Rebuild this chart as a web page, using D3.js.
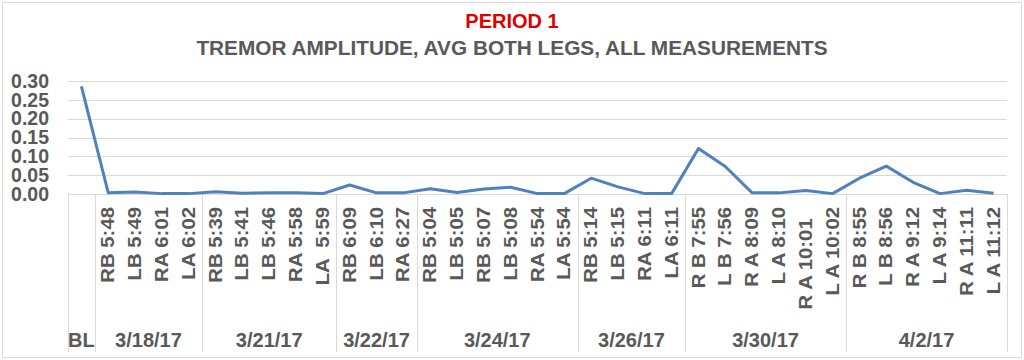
<!DOCTYPE html>
<html>
<head>
<meta charset="utf-8">
<script src="https://cdn.jsdelivr.net/npm/d3@7"></script>
<style>
    body { margin: 0; background: #fff; }
    text { font-family: "Liberation Sans", Arial, sans-serif; }
</style>
</head>
<body>
<div id="chart"></div>
<script>
// Data
const groups = ["BL", "3/18/17", "3/21/17", "3/22/17", "3/24/17", "3/26/17", "3/30/17", "4/2/17"];
const groupSizes = [1, 4, 5, 3, 6, 4, 6, 6];
const labels = [
    "",
    "RB 5:48", "LB 5:49", "RA 6:01", "LA 6:02",
    "RB 5:39", "LB 5:41", "LB 5:46", "RA 5:58", "LA  5:59",
    "RB 6:09", "LB 6:10", "RA 6:27",
    "RB 5:04", "LB 5:05", "RB 5:07", "LB 5:08", "RA 5:54", "LA 5:54",
    "RB 5:14", "LB 5:15", "RA 6:11", "LA 6:11",
    "R B 7:55", "L B 7:56", "R A 8:09", "L A 8:10", "R A 10:01  ", "L A 10:02",
    "R B 8:55", "L B 8:56", "R A 9:12", "L A 9:14", "R A 11:11", "L A 11:12"
];
const values = [
    0.286,
    0.003, 0.005, 0.001, 0.001,
    0.006, 0.002, 0.003, 0.003, 0.001,
    0.024, 0.003, 0.003,
    0.014, 0.004, 0.013, 0.018, 0.001, 0.001,
    0.042, 0.019, 0.001, 0.001,
    0.121, 0.073, 0.003, 0.003, 0.009, 0.001,
    0.042, 0.074, 0.031, 0.001, 0.010, 0.002
];
const yTicks = [0, 0.05, 0.10, 0.15, 0.20, 0.25, 0.30];

const W = 1024, H = 360;
const margin = { top: 81, right: 17, bottom: 166, left: 68 };
const width = W - margin.left - margin.right;
const height = H - margin.top - margin.bottom;
const textGray = "#595959";
const gridGray = "#d9d9d9";

const root = d3.select("#chart")
    .append("svg")
    .attr("width", W)
    .attr("height", H);

// outer frame
root.append("rect")
    .attr("x", 2.5).attr("y", 2.5)
    .attr("width", W - 5).attr("height", H - 5)
    .attr("fill", "#fff")
    .attr("stroke", gridGray);

// Titles
root.append("text")
    .attr("x", W / 2).attr("y", 21)
    .attr("text-anchor", "middle")
    .attr("dominant-baseline", "central")
    .style("font-size", "20px").style("font-weight", "bold")
    .style("fill", "#e00000")
    .text("PERIOD 1");

root.append("text")
    .attr("x", W / 2).attr("y", 47)
    .attr("text-anchor", "middle")
    .attr("dominant-baseline", "central")
    .style("font-size", "20.8px").style("font-weight", "bold")
    .style("fill", textGray)
    .text("TREMOR AMPLITUDE, AVG BOTH LEGS, ALL MEASUREMENTS");

const svg = root.append("g")
    .attr("transform", `translate(${margin.left}, ${margin.top})`);

// Scales
const idx = values.map((d, i) => i);
const xScale = d3.scaleBand()
    .domain(idx)
    .range([0, width]);

const yScale = d3.scaleLinear()
    .domain([0, 0.30])
    .range([height, 0]);

// Gridlines
svg.selectAll(".grid")
    .data(yTicks)
    .enter()
    .append("line")
    .attr("class", "grid")
    .attr("x1", 0).attr("x2", width)
    .attr("y1", d => Math.round(yScale(d)) + 0.5)
    .attr("y2", d => Math.round(yScale(d)) + 0.5)
    .style("stroke", gridGray);

// Y axis labels
const yAxis = svg.append("g")
    .attr("class", "y-axis")
    .call(d3.axisLeft(yScale).tickValues(yTicks).tickFormat(d3.format(".2f")).tickSize(0).tickPadding(19));
yAxis.select("path").remove();
yAxis.selectAll("text")
    .style("font-size", "19.5px")
    .style("font-weight", "bold")
    .style("font-family", "'Liberation Sans', Arial, sans-serif")
    .style("fill", textGray);

// Group boundaries for the multi-level axis
let acc = 0;
const bounds = [0];
const groupData = groups.map((g, i) => {
    const start = acc;
    acc += groupSizes[i];
    bounds.push(acc);
    return { name: g, start: start, end: acc };
});
const xEdge = i => i >= values.length ? width : xScale(i);

svg.selectAll(".group-line")
    .data(bounds)
    .enter()
    .append("line")
    .attr("class", "group-line")
    .attr("x1", d => Math.round(xEdge(d)) + 0.5)
    .attr("x2", d => Math.round(xEdge(d)) + 0.5)
    .attr("y1", height)
    .attr("y2", height + 158)
    .style("stroke", gridGray);

// Inner category labels (rotated, a bit stretched like the original)
svg.selectAll(".cat-label")
    .data(labels)
    .enter()
    .append("text")
    .attr("class", "cat-label")
    .attr("transform", (d, i) => `translate(${xScale(i) + xScale.bandwidth() / 2}, ${height + 13}) rotate(-90) scale(1.13, 1)`)
    .attr("text-anchor", "end")
    .attr("dominant-baseline", "central")
    .style("font-size", "18px")
    .style("font-weight", "bold")
    .style("fill", textGray)
    .style("white-space", "pre")
    .text(d => d);

// Outer group labels
svg.selectAll(".group-label")
    .data(groupData)
    .enter()
    .append("text")
    .attr("class", "group-label")
    .attr("x", d => (xEdge(d.start) + xEdge(d.end)) / 2)
    .attr("y", height + 146)
    .attr("text-anchor", "middle")
    .attr("dominant-baseline", "central")
    .style("font-size", "20px")
    .style("font-weight", "bold")
    .style("fill", textGray)
    .text(d => d.name);

// Line
const line = d3.line()
    .x((d, i) => xScale(i) + xScale.bandwidth() / 2)
    .y(d => yScale(d));

svg.append("path")
    .datum(values)
    .attr("d", line)
    .attr("fill", "none")
    .attr("stroke", "#4f81bd")
    .attr("stroke-width", 3)
    .attr("stroke-linejoin", "round");
</script>
</body>
</html>
